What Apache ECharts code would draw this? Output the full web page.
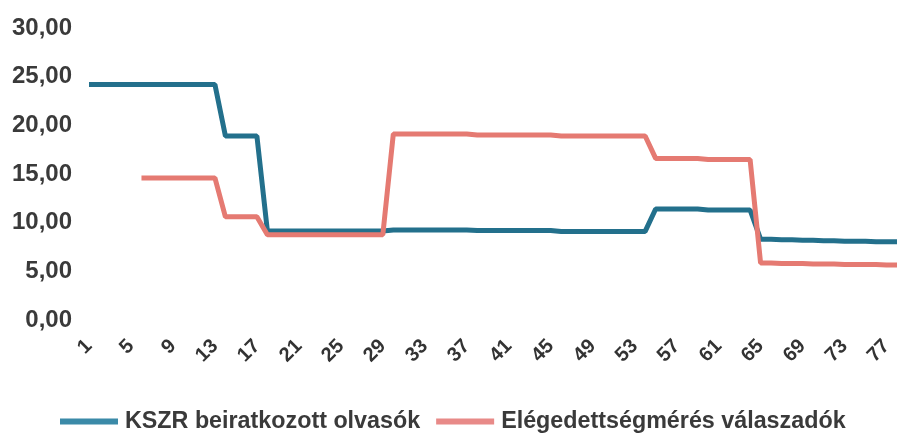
<!DOCTYPE html>
<html>
<head>
<meta charset="utf-8">
<script src="https://cdn.jsdelivr.net/npm/echarts@6/dist/echarts.min.js"></script>
<style>html,body{margin:0;padding:0;background:#fff}#c{width:897px;height:437px}</style>
</head>
<body>
<div id="c"></div>
<script>
// categories 1..78
const categories = [];
for (let i = 1; i <= 78; i++) categories.push(String(i));

const seriesNames = ['KSZR beiratkozott olvasók', 'Elégedettségmérés válaszadók'];

// KSZR beiratkozott olvasók (cats 1..78)
const kszr = [
  24.2,24.2,24.2,24.2,24.2,24.2,24.2,24.2,24.2,24.2,24.2,24.2,24.2,      // 1-13
  18.9,18.9,18.9,18.9,                                                   // 14-17
  9.15,9.15,9.15,9.15,9.15,9.15,9.15,9.15,9.15,9.15,9.15,9.15,           // 18-29
  9.25,9.25,9.25,9.25,9.25,9.25,9.25,9.25,                               // 30-37
  9.2,9.2,9.2,9.2,9.2,9.2,9.2,9.2,                                       // 38-45
  9.1,9.1,9.1,9.1,9.1,9.1,9.1,9.1,9.1,                                   // 46-54
  11.4,11.4,11.4,11.4,11.4,11.3,11.3,11.3,11.3,11.3,                     // 55-64
  8.3,8.3,8.25,8.25,8.2,8.2,8.15,8.15,8.1,8.1,8.1,8.05,8.05,8.05         // 65-78
];

// Elégedettségmérés válaszadók (cats 1..78)
const elegedettseg = [
  null,null,null,null,null,                                              // 1-5
  14.6,14.6,14.6,14.6,14.6,14.6,14.6,14.6,                               // 6-13
  10.6,10.6,10.6,10.6,                                                   // 14-17
  8.75,8.75,8.75,8.75,8.75,8.75,8.75,8.75,8.75,8.75,8.75,8.75,           // 18-29
  19.1,19.1,19.1,19.1,19.1,19.1,19.1,19.1,                               // 30-37
  19.0,19.0,19.0,19.0,19.0,19.0,19.0,19.0,                               // 38-45
  18.9,18.9,18.9,18.9,18.9,18.9,18.9,18.9,18.9,                          // 46-54
  16.6,16.6,16.6,16.6,16.6,16.5,16.5,16.5,16.5,16.5,                     // 55-64
  5.85,5.85,5.8,5.8,5.8,5.75,5.75,5.75,5.7,5.7,5.7,5.7,5.65,5.65         // 65-78
];

const yTicks = [0, 5, 10, 15, 20, 25, 30];

const chart = echarts.init(document.getElementById('c'));
const fontFamily = '"Liberation Sans", Arial, sans-serif';
chart.setOption({
  animation: false,
  backgroundColor: '#ffffff',
  grid: { left: 89, right: 0, top: 28, bottom: 117, containLabel: false },
  xAxis: {
    type: 'category',
    data: categories,
    boundaryGap: false,
    axisLine: { show: false },
    axisTick: { show: false },
    splitLine: { show: false },
    axisLabel: {
      interval: 3,
      rotate: 45,
      margin: 23,
      fontSize: 20,
      fontWeight: 'bold',
      color: '#333333',
      fontFamily: fontFamily
    }
  },
  yAxis: {
    type: 'value',
    min: yTicks[0],
    max: yTicks[yTicks.length - 1],
    interval: 5,
    axisLine: { show: false },
    axisTick: { show: false },
    splitLine: { show: false },
    axisLabel: {
      margin: 17,
      fontSize: 24,
      fontWeight: 'bold',
      color: '#3a3a3a',
      fontFamily: fontFamily,
      formatter: v => v.toFixed(2).replace('.', ',')
    }
  },
  legend: {
    left: 55,
    top: 405,
    itemWidth: 58,
    itemHeight: 6,
    itemGap: 16,
    icon: 'rect',
    textStyle: { fontSize: 23.3, fontWeight: 'bold', color: '#3a3a3a', fontFamily: fontFamily, padding: [0, 0, 0, 2] },
    data: [
      { name: seriesNames[0], itemStyle: { color: '#3b8aa8' } },
      { name: seriesNames[1], itemStyle: { color: '#e88a88' } }
    ]
  },
  series: [
    {
      name: seriesNames[0],
      type: 'line',
      data: kszr,
      showSymbol: false,
      symbol: 'none',
      lineStyle: { color: '#23708c', width: 5 },
      itemStyle: { color: '#23708c' },
      z: 2
    },
    {
      name: seriesNames[1],
      type: 'line',
      data: elegedettseg,
      showSymbol: false,
      symbol: 'none',
      lineStyle: { color: '#e57a72', width: 5 },
      itemStyle: { color: '#e57a72' },
      z: 3
    }
  ]
});
</script>
</body>
</html>
